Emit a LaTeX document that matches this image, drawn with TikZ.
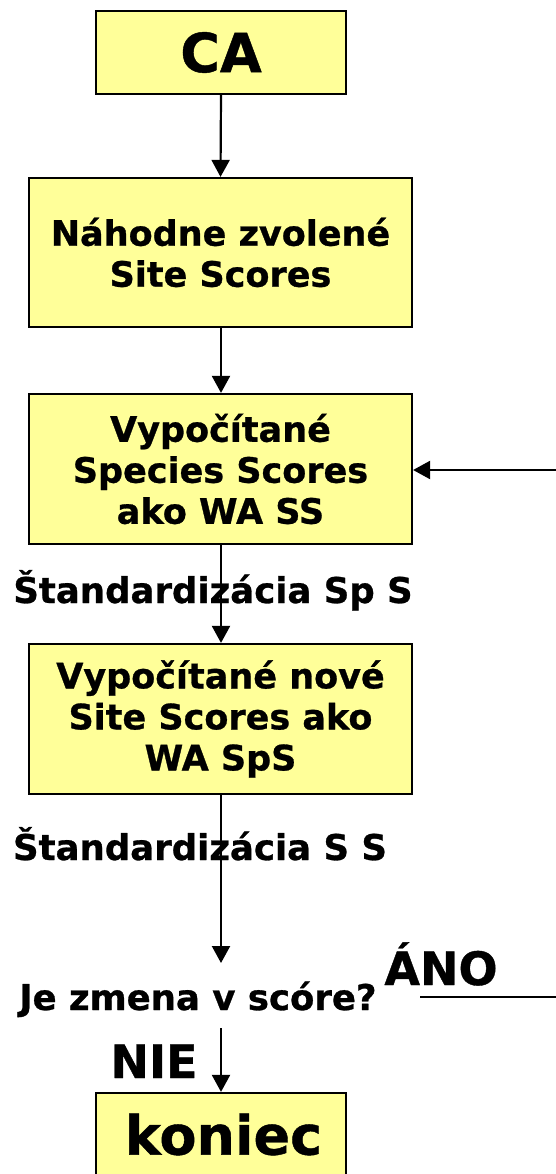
\documentclass[tikz,border=0pt]{standalone}
\usepackage{fontspec}
\setmainfont{DejaVu Sans}[BoldFeatures={FakeBold=0.8}]
\usetikzlibrary{arrows.meta}
\tikzset{
  box/.style={draw=black, line width=2.2pt, fill=boxyellow, inner sep=0pt, align=center,
    font=\bfseries\fontsize{35}{41}\selectfont},
  bigbox/.style={box, font=\bfseries\fontsize{54}{60}\selectfont},
  lbl/.style={inner sep=0pt, anchor=base, font=\bfseries\fontsize{35.5}{40}\selectfont},
  biglbl/.style={inner sep=0pt, anchor=base, font=\bfseries\fontsize{46}{50}\selectfont},
  conn/.style={line width=2.2pt, -{Triangle[length=17pt,width=18pt]}},
  plain/.style={line width=2.2pt}
}
\definecolor{boxyellow}{HTML}{FFFF99}
\begin{document}
\begin{tikzpicture}[x=1pt,y=-1pt]
\useasboundingbox (0,0) rectangle (555,1174);
% boxes
\node[bigbox, minimum width=250pt, minimum height=83pt] (ca) at (221,52.5) {CA};
\node[box, minimum width=383pt, minimum height=149pt] (b2) at (220.5,252.5) {Náhodne zvolené\\Site Scores};
\node[box, minimum width=383pt, minimum height=150pt] (b3) at (220.5,469) {Vypočítané\\Species Scores\\ako WA SS};
\node[box, minimum width=383pt, minimum height=150pt] (b4) at (220.5,719) {Vypočítané nové\\Site Scores ako\\WA SpS};
\node[box, minimum width=250pt, minimum height=83pt] (kon) at (221,1134.5) {\fontsize{54}{60}\selectfont\hspace*{5pt}koniec};
% labels
\node[lbl] (l1) at (213,603) {Štandardizácia Sp S};
\node[lbl] (l2) at (200,860) {Štandardizácia S S};
\node[lbl] (dec) at (198,1010) {Je zmena v scóre?};
\node[biglbl] (ano) at (441,985) {ÁNO};
\node[biglbl] (nie) at (154,1078) {NIE};
% coordinates
\coordinate (d4) at (221,963);
\coordinate (dtop) at (221,1028);
\coordinate (a0) at (420,997);
\coordinate (r1) at (560,997);
\coordinate (r2) at (560,470);
% connectors
\draw[conn] (ca.south) -- (b2.north);
\draw[conn] (b2.south -| ca.south) -- (b3.north -| ca.south);
\draw[conn] (b3.south -| ca.south) -- (b4.north -| ca.south);
\draw[conn] (b4.south -| ca.south) -- (d4);
\draw[conn] (dtop) -- (kon.north);
\draw[conn] (a0) -- (r1) -- (r2) -- (b3.east |- r2);
\end{tikzpicture}
\end{document}
